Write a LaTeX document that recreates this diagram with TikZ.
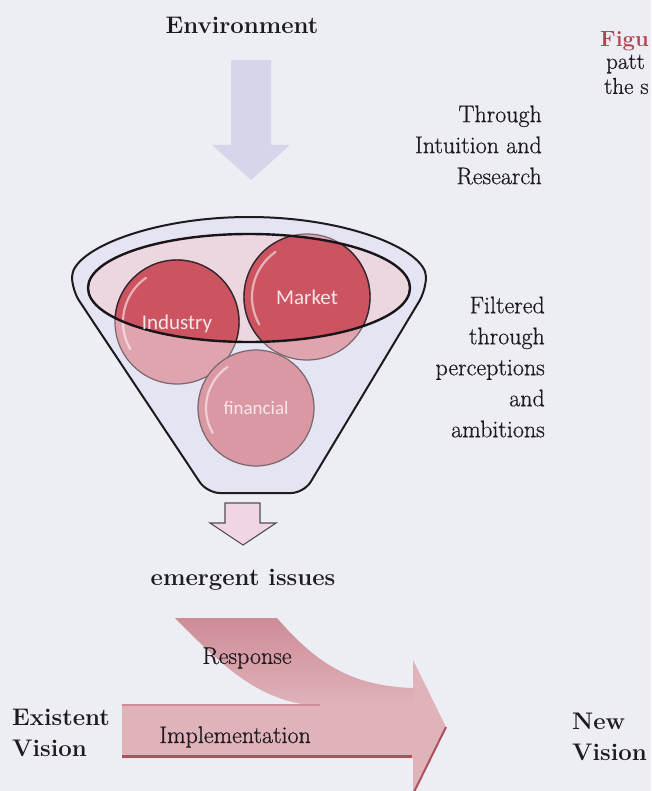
\documentclass[tikz,border=0pt]{standalone}
\usepackage{fontspec}
\newfontfamily\circfont{Carlito}
\newfontfamily\heavyrm{Latin Modern Roman}[FakeBold=0.6]
\definecolor{bg}{RGB}{237,237,244}
\definecolor{txtc}{RGB}{30,26,30}
\definecolor{envarrow}{RGB}{214,214,234}
\definecolor{funnelfill}{RGB}{228,228,242}
\definecolor{ellfill}{RGB}{236,214,224}
\definecolor{ballred}{RGB}{204,84,96}
\definecolor{balllight}{RGB}{224,164,174}
\definecolor{finball}{RGB}{218,152,162}
\definecolor{bandpink}{RGB}{224,178,186}
\definecolor{banddark}{RGB}{206,140,150}
\definecolor{darkred}{RGB}{172,82,92}
\definecolor{smallarrow}{RGB}{240,214,228}
\definecolor{figred}{RGB}{176,70,80}
\tikzset{
  txt/.style={font=\heavyrm\fontsize{24}{31}\selectfont, text=txtc, inner sep=0pt},
  btxt/.style={font=\fontsize{24}{31}\selectfont\bfseries, text=txtc, inner sep=0pt},
  captxt/.style={font=\heavyrm\fontsize{23}{22}\selectfont, text=txtc, inner sep=0pt, anchor=west},
  balltxt/.style={font=\circfont\fontsize{21}{24}\selectfont, text={rgb,255:red,248;green,230;blue,234}, inner sep=0pt},
  ballline/.style={draw={rgb,255:red,120;green,104;blue,110}, line width=1.2pt},
  ballinner/.style={draw={rgb,255:red,55;green,38;blue,44}, line width=1.4pt},
  gloss/.style={draw=white, opacity=0.55, line width=2.2pt, line cap=round}
}
\begin{document}
\begin{tikzpicture}[x=1pt,y=-1pt]
\path[use as bounding box, fill=bg] (0,0) rectangle (651,791);
\clip (0,0) rectangle (651,791);

% title
\node[btxt] (env) at (242,25) {Environment};
% environment arrow
\fill[envarrow] (231,60) -- (271,60) -- (271,145) -- (290,145) -- (251,180) -- (212,145) -- (231,145) -- cycle;

\node[txt, anchor=east, align=right] (thr) at (542,145) {Through\\Intuition and\\Research};

% funnel outer
\draw[fill=funnelfill, line width=2pt, rounded corners=13pt, draw={rgb,255:red,30;green,26;blue,30}]
  (207,493) -- (72,290) arc[start angle=180, end angle=360, x radius=177, y radius=73]
  -- (304,493) -- cycle;
% inner ellipse fill
\fill[ellfill] (249,288) ellipse[x radius=161, y radius=54];

% balls (outer, light)
\fill[balllight] (177,322) circle[radius=62];
\fill[balllight] (307,297) circle[radius=63];
\draw[ballline] (177,322) circle[radius=62];
\draw[ballline] (307,297) circle[radius=63];
\fill[finball] (256,408) circle[radius=58];
\draw[ballline] (256,408) circle[radius=58];
% balls inside ellipse (dark)
\begin{scope}
  \clip (249,288) ellipse[x radius=161, y radius=54];
  \fill[ballred] (177,322) circle[radius=62];
  \fill[ballred] (307,297) circle[radius=63];
  \draw[ballinner] (177,322) circle[radius=62];
  \draw[ballinner] (307,297) circle[radius=63];
\end{scope}
% gloss highlights
\draw[gloss, shift={(177,322)}] (150:54) arc[start angle=150, end angle=235, radius=54];
\draw[gloss, shift={(307,297)}] (150:55) arc[start angle=150, end angle=235, radius=55];
\draw[gloss, shift={(256,408)}] (150:50) arc[start angle=150, end angle=235, radius=50];
% ellipse outline
\draw[line width=2.4pt, draw={rgb,255:red,25;green,20;blue,24}] (249,288) ellipse[x radius=161, y radius=54];

\node[balltxt] (ind) at (177,324) {Industry};
\node[balltxt] (mkt) at (307,297) {Market};
\node[balltxt, font=\circfont\fontsize{19}{22}\selectfont] (fin) at (256,408) {financial};

\node[txt, anchor=east, align=right] (filt) at (545,367) {Filtered\\through\\perceptions\\and\\ambitions};

% small down arrow
\draw[fill=smallarrow, draw={rgb,255:red,80;green,78;blue,84}, line width=1.1pt, line join=miter]
  (225,503) -- (260,503) -- (260,523) -- (276,523) -- (243,545) -- (210,523) -- (225,523) -- cycle;

\node[btxt] (emg) at (243,580) {emergent issues};

% implementation bar + head
\fill[bandpink] (122,705) -- (413,705) -- (413,660) -- (446,727) -- (413,794) -- (413,758) -- (122,758) -- cycle;
% response band
\shade[top color=banddark, bottom color=bandpink]
  (175,618) -- (277,618) .. controls (315,662) and (350,686) .. (413,688)
  -- (413,706) -- (320,706) .. controls (262,703) and (226,670) .. (175,618) -- cycle;
% dark edges
\draw[darkred, line width=3pt] (122,756) -- (412,756);
\draw[darkred, line width=2pt] (446,727) -- (413,794);
\draw[banddark, line width=1.5pt] (122,705) -- (320,705);

\node[txt] (resp) at (247,658) {Response};
\node[txt] (impl) at (235,737) {Implementation};

\node[btxt, anchor=west, align=left] (exv) at (12,733) {Existent\\Vision};
\node[btxt, anchor=west, align=left] (nwv) at (572,737) {New\\Vision};

% truncated caption at right
\node[captxt, text=figred, font=\fontsize{22}{22}\selectfont\bfseries] (fig) at (600,41) {Figu};
\node[captxt] (pat) at (606,64) {patt};
\node[captxt] (ths) at (604,86) {the s};
\end{tikzpicture}
\end{document}
